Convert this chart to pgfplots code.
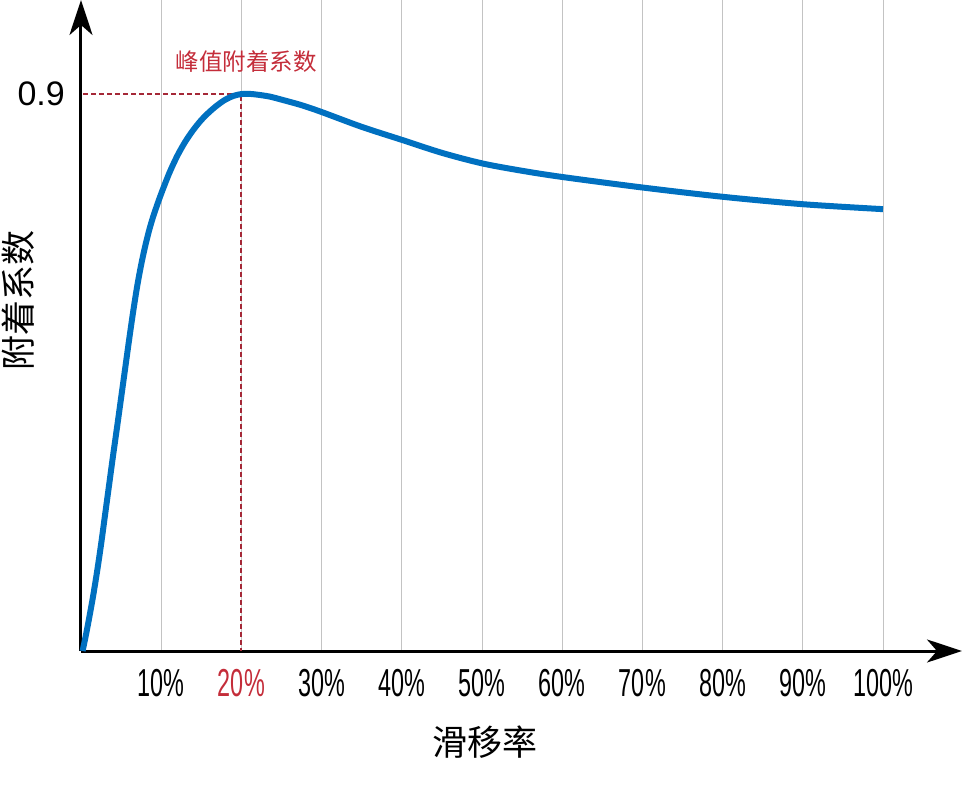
\documentclass[border=0pt]{standalone}
\usepackage{pgfplots}
\pgfplotsset{compat=1.18}
\usetikzlibrary{arrows.meta}
\usepackage{fontspec}
\setmainfont{Liberation Sans}
\newfontfamily\cjk{Noto Sans CJK SC}

\definecolor{curveblue}{RGB}{0,112,192}
\definecolor{labelred}{RGB}{196,45,58}
\definecolor{dashred}{RGB}{165,40,55}
\definecolor{gridgray}{RGB}{195,195,195}

\newcommand{\tk}[1]{\scalebox{0.6}[1]{#1}}

\begin{document}
\begin{tikzpicture}
\begin{axis}[
    at={(81pt,142pt)}, anchor=south west,
    scale only axis,
    width=881pt, height=651pt,
    xmin=0, xmax=109.85,
    ymin=0, ymax=1.052,
    axis lines=left,
    axis line style={line width=3pt, -{Stealth[length=35pt,width=23pt,inset=10pt]}},
    xtick={10,20,30,40,50,60,70,80,90,100},
    xticklabels={\tk{10\%},\textcolor{labelred}{\tk{20\%}},\tk{30\%},\tk{40\%},\tk{50\%},\tk{60\%},\tk{70\%},\tk{80\%},\tk{90\%},\tk{100\%}},
    ytick={0.9},
    yticklabels={0.9},
    major tick length=0pt,
    xmajorgrids,
    grid style={gridgray, line width=1pt},
    xticklabel style={font=\fontsize{39}{39}\selectfont, anchor=north, inner sep=0pt, yshift=-18pt},
    yticklabel style={font=\fontsize{34}{34}\selectfont, anchor=east, inner sep=0pt, xshift=-16pt},
    xlabel={\cjk 滑移率},
    ylabel={\cjk 附着系数},
    xlabel style={font=\fontsize{35}{35}\selectfont, at={(axis description cs:0.4586,-0.1398)}, anchor=center},
    ylabel style={font=\fontsize{35}{35}\selectfont, at={(axis description cs:-0.0715,0.539)}, anchor=center, rotate=0},
    clip=false
]

% peak guide lines
\addplot[dashred, line width=2pt, dash pattern=on 5pt off 3pt] coordinates {
    (0.3,0.9) (20,0.9) (20,0)
};

\addplot[curveblue, line width=6pt, smooth, tension=0.5] coordinates {
    (0.2,0)
    (0.6,0.025)
    (1.0,0.052)
    (1.5,0.088)
    (2.0,0.128)
    (2.5,0.172)
    (3.0,0.220)
    (3.5,0.268)
    (4.0,0.316)
    (4.5,0.362)
    (5.0,0.409)
    (5.5,0.456)
    (6.0,0.503)
    (6.5,0.548)
    (7.0,0.589)
    (7.5,0.624)
    (8.0,0.654)
    (8.5,0.680)
    (9.0,0.702)
    (9.5,0.721)
    (10.0,0.739)
    (11.0,0.772)
    (12.0,0.800)
    (13.0,0.823)
    (14.0,0.842)
    (15.0,0.858)
    (16.0,0.871)
    (17.0,0.882)
    (18.0,0.891)
    (19.0,0.897)
    (20,0.900)
    (21,0.9003)
    (22,0.899)
    (23.5,0.896)
    (25,0.891)
    (27.5,0.882)
    (30,0.871)
    (35,0.847)
    (40,0.826)
    (45,0.805)
    (50,0.788)
    (55,0.776)
    (60,0.766)
    (70,0.749)
    (80,0.734)
    (90,0.722)
    (100,0.714)
};

\node[labelred, font=\cjk\fontsize{23.5}{23.5}\selectfont] at (axis cs:20.6,0.953) {峰值附着系数};

\end{axis}
\pgfresetboundingbox
\path[use as bounding box] (0,0) rectangle (962pt,793pt);
\end{tikzpicture}
\end{document}
